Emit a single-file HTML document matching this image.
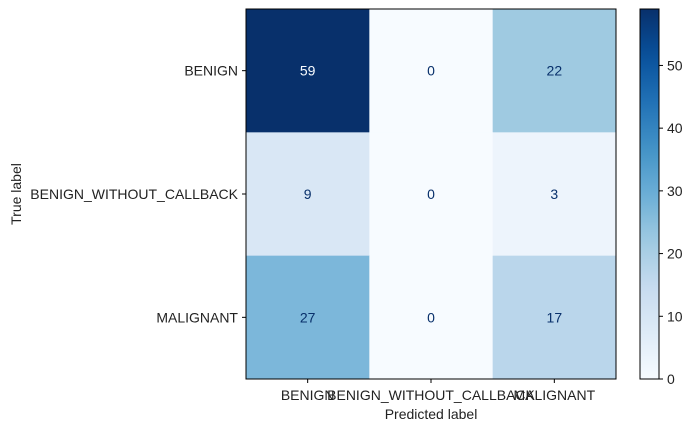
<!DOCTYPE html>
<html><head><meta charset="utf-8"><style>
body{margin:0;background:#fff;}
svg{display:block;font-family:"Liberation Sans","DejaVu Sans",sans-serif;}
</style></head><body>
<svg id="chart" width="695" height="432" viewBox="0 0 695 432">
<defs><linearGradient id="cbg" x1="0" y1="1" x2="0" y2="0"></linearGradient></defs>
<g id="cells"></g>
<g id="axes"></g>
</svg>
<script>
const classes=["BENIGN","BENIGN_WITHOUT_CALLBACK","MALIGNANT"];
const matrix=[[59,0,22],[9,0,3],[27,0,17]];
const cbTicks=[0,10,20,30,40,50];

const blues=["#f7fbff","#deebf7","#c6dbef","#9ecae1","#6baed6","#4292c6","#2171b5","#08519c","#08306b"];
function hex(h){return [1,3,5].map(i=>parseInt(h.substr(i,2),16));}
function cmap(t){t=Math.max(0,Math.min(1,t));const s=t*(blues.length-1);const i=Math.min(Math.floor(s),blues.length-2);const f=s-i;const a=hex(blues[i]),b=hex(blues[i+1]);return "rgb("+a.map((v,k)=>Math.round(v+(b[k]-v)*f)).join(",")+")";}
const NS="http://www.w3.org/2000/svg";
function el(tag,attrs,parent,text){const e=document.createElementNS(NS,tag);for(const k in attrs)e.setAttribute(k,attrs[k]);if(text!==undefined)e.textContent=text;parent.appendChild(e);return e;}
const X0=246,Y0=9,W=370,H=370,FS=14;
const n=classes.length,cw=W/n,ch=H/n;
const vals=matrix.flat();const vmin=Math.min(...vals),vmax=Math.max(...vals);
const cells=document.getElementById('cells'),axes=document.getElementById('axes');
const xs=i=>X0+i*cw, ys=j=>Y0+j*ch;
for(let r=0;r<n;r++)for(let c=0;c<n;c++){
 const v=matrix[r][c];const t=(v-vmin)/(vmax-vmin);
 const rc=el('rect',{x:xs(c),y:ys(r),width:cw+0.5,height:ch+0.5,fill:cmap(t)},cells);
 
 
 const tx=el('text',{x:xs(c)+cw/2,y:ys(r)+ch/2+5,'text-anchor':'middle','font-size':FS,fill:t>0.5?"#f7fbff":"#08306b"},cells,String(v));
 
 
}
el('rect',{x:X0,y:Y0,width:W,height:H,fill:'none',stroke:'#000','stroke-width':1},axes);
for(let i=0;i<n;i++){
 el('line',{x1:xs(i)+cw/2,x2:xs(i)+cw/2,y1:Y0+H,y2:Y0+H+4,stroke:'#000'},axes);
 const xl=el('text',{x:xs(i)+cw/2,y:Y0+H+21,'text-anchor':'middle','font-size':FS,fill:'#222'},axes,classes[i]);
 
 
 el('line',{x1:X0-4,x2:X0,y1:ys(i)+ch/2,y2:ys(i)+ch/2,stroke:'#000'},axes);
 const yl=el('text',{x:X0-8,y:ys(i)+ch/2+5,'text-anchor':'end','font-size':FS,fill:'#222'},axes,classes[i]);
 
 
}
const xt=el('text',{x:X0+W/2,y:419,'text-anchor':'middle','font-size':FS,fill:'#222'},axes,'Predicted label');


const yt=el('text',{x:0,y:0,'text-anchor':'middle','font-size':FS,fill:'#222',transform:'translate(21,194) rotate(-90)'},axes,'True label');


const grad=document.getElementById('cbg');
for(let k=0;k<=20;k++)el('stop',{offset:(k/20),'stop-color':cmap(k/20)},grad);
const CX=640,CW=19;
const cb=el('rect',{x:CX,y:Y0,width:CW,height:H,fill:'url(#cbg)',stroke:'#000','stroke-width':1},axes);


const cy=v=>Y0+H-(v-vmin)/(vmax-vmin)*H;
cbTicks.forEach(v=>{
 el('line',{x1:CX+CW,x2:CX+CW+4,y1:cy(v),y2:cy(v),stroke:'#000'},axes);
 const t=el('text',{x:CX+CW+8,y:cy(v)+5,'font-size':FS,fill:'#222'},axes,String(v));
 
 
});
</script>
</body></html>
